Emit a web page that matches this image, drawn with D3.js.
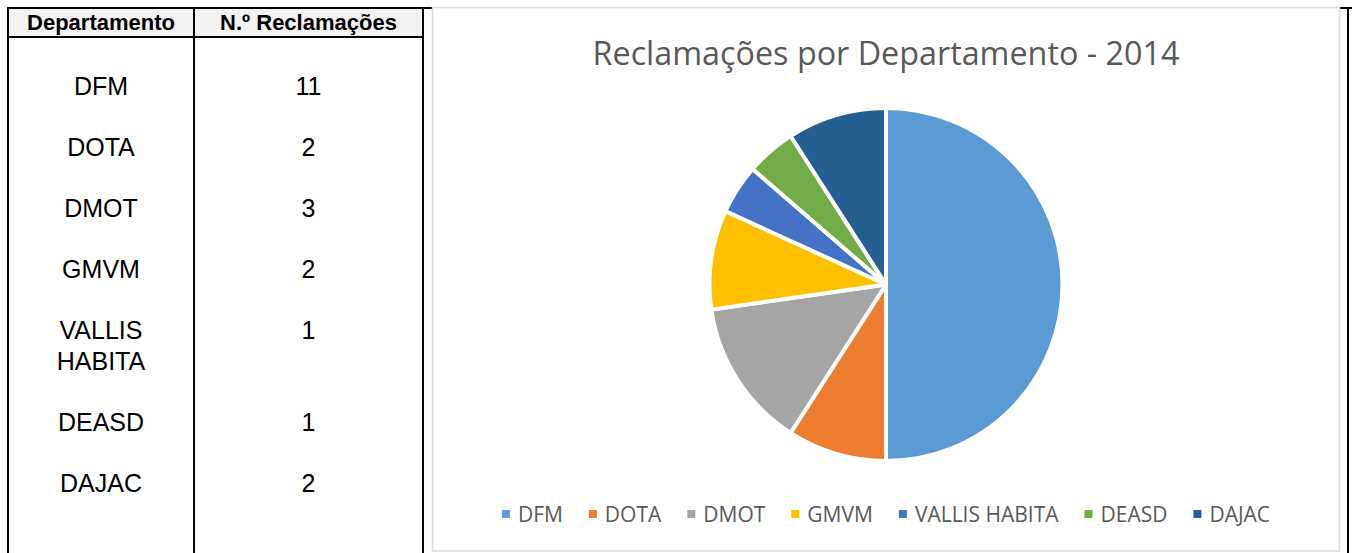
<!DOCTYPE html>
<html>
<head>
<meta charset="utf-8">
<script src="https://cdn.jsdelivr.net/npm/d3@7"></script>
<style>
  body { margin: 0; background: #fff; }
  svg { display: block; }
</style>
</head>
<body>
<div id="chart"></div>
<script>
// data
const departments = ['DFM', 'DOTA', 'DMOT', 'GMVM', 'VALLIS HABITA', 'DEASD', 'DAJAC'];
const complaints = [11, 2, 3, 2, 1, 1, 2];
const tableLines = [['DFM'], ['DOTA'], ['DMOT'], ['GMVM'], ['VALLIS', 'HABITA'], ['DEASD'], ['DAJAC']];
const colors = ['#5B9BD5', '#ED7D31', '#A5A5A5', '#FFC000', '#4472C4', '#70AD47', '#255E91'];
const headers = ['Departamento', 'N.º Reclamações'];
const chartTitle = 'Reclamações por Departamento - 2014';

{
const width = 1352, height = 553;

let svg = d3.select('#chart').append('svg')
    .attr('width', width)
    .attr('height', height);

// ---- table on the left ----
const col = [8, 194, 423];   // border x positions
const tableTop = 8, headBottom = 37;

svg.append('rect')
    .attr('x', col[0]).attr('y', tableTop)
    .attr('width', col[2] - col[0]).attr('height', headBottom - tableTop)
    .attr('fill', '#f2f2f2');

let grid = svg.append('g').attr('stroke', '#000').attr('stroke-width', 2);
grid.append('line').attr('x1', col[0] - 1).attr('x2', width).attr('y1', tableTop).attr('y2', tableTop);
grid.append('line').attr('x1', col[0]).attr('x2', col[2]).attr('y1', headBottom).attr('y2', headBottom);
col.concat([1348]).forEach(x => {
    grid.append('line').attr('x1', x).attr('x2', x).attr('y1', tableTop - 1).attr('y2', height);
});

svg.selectAll('text.head').data(headers).enter().append('text')
    .attr('class', 'head')
    .attr('x', (d, i) => (col[i] + col[i + 1]) / 2)
    .attr('y', (tableTop + headBottom) / 2)
    .attr('dy', '0.35em')
    .attr('text-anchor', 'middle')
    .style('font-family', '"Liberation Sans", Arial, sans-serif')
    .style('font-weight', 'bold')
    .style('font-size', '22px')
    .text(d => d);

// row centre positions: 61px per row, 31px for each extra line
let rowY = [];
let yPos = 86;
tableLines.forEach(lines => {
    rowY.push(yPos);
    yPos += 61 + (lines.length - 1) * 31;
});

let body = svg.append('g')
    .style('font-family', '"Liberation Sans", Arial, sans-serif')
    .style('font-size', '25px')
    .attr('text-anchor', 'middle')
    .attr('fill', '#000');

tableLines.forEach((lines, i) => {
    lines.forEach((line, j) => {
        body.append('text')
            .attr('x', (col[0] + col[1]) / 2)
            .attr('y', rowY[i] + j * 31)
            .attr('dy', '0.36em')
            .text(line);
    });
    body.append('text')
        .attr('x', (col[1] + col[2]) / 2)
        .attr('y', rowY[i])
        .attr('dy', '0.36em')
        .text(complaints[i]);
});

// ---- chart area ----
const frame = {x: 432.5, y: 7.5, w: 907, h: 543.5};
svg.append('rect')
    .attr('x', frame.x).attr('y', frame.y)
    .attr('width', frame.w).attr('height', frame.h)
    .attr('fill', '#fff')
    .attr('stroke', '#d9d9d9')
    .attr('stroke-width', 1.5);

const cx = 886, cy = 284.5, radius = 176.5;

svg.append('text')
    .attr('x', cx)
    .attr('y', 65)
    .attr('text-anchor', 'middle')
    .style('font-family', '"Open Sans", sans-serif')
    .style('font-size', '32.3px')
    .attr('fill', '#595959')
    .text(chartTitle);

let pie = d3.pie().sort(null).value(d => d.value);
let arc = d3.arc().innerRadius(0).outerRadius(radius);
let pieData = pie(departments.map((d, i) => ({name: d, value: complaints[i]})));

let colorScale = d3.scaleOrdinal().domain(departments).range(colors);

svg.append('g')
    .attr('transform', `translate(${cx}, ${cy})`)
    .selectAll('path').data(pieData).enter().append('path')
    .attr('d', arc)
    .attr('fill', d => colorScale(d.data.name))
    .attr('stroke', '#fff')
    .attr('stroke-width', 4)
    .attr('stroke-linejoin', 'round');

// legend
let legend = svg.append('g').attr('transform', `translate(0, 514)`);
let items = legend.selectAll('g').data(departments).enter().append('g');
items.append('rect')
    .attr('x', 0).attr('y', -4)
    .attr('width', 8).attr('height', 8)
    .attr('fill', d => colorScale(d));
items.append('text')
    .attr('x', 16)
    .attr('dy', '0.36em')
    .style('font-family', '"Open Sans", sans-serif')
    .style('font-size', '21px')
    .attr('fill', '#595959')
    .text(d => d);

let offsets = [];
let xCursor = 0;
items.each(function() {
    offsets.push(xCursor);
    let w = d3.select(this).select('text').node().getComputedTextLength();
    xCursor += 16 + w + 26;
});
let total = xCursor - 26;
let startX = cx - total / 2;
items.attr('transform', (d, i) => `translate(${startX + offsets[i]}, 0)`);
}
</script>
</body>
</html>
